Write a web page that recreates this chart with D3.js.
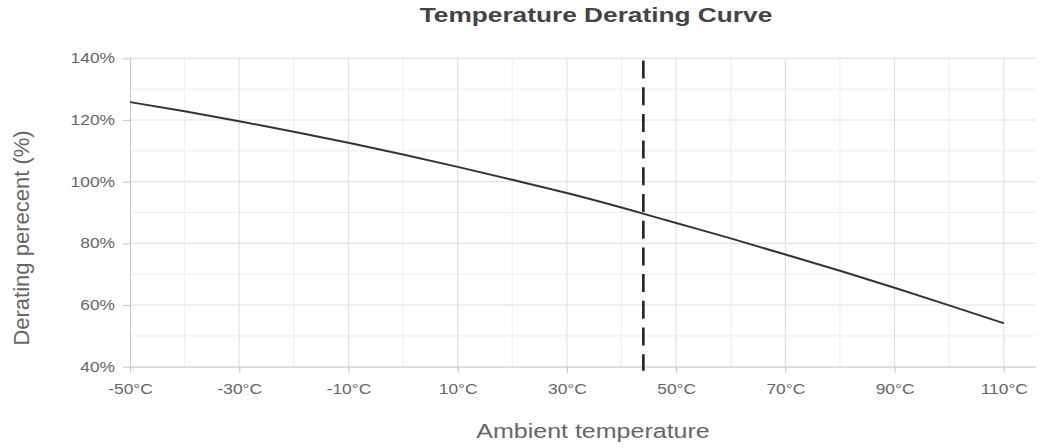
<!DOCTYPE html>
<html><head><meta charset="utf-8">
<script src="https://cdn.jsdelivr.net/npm/d3@7"></script>
<style>
body{margin:0;background:#fff;}
svg{display:block;font-family:"Liberation Sans",Arial,sans-serif;}
</style></head>
<body><svg id="c" width="1051" height="448"></svg>
<script>
const temps = [-50,-40,-30,-20,-10,0,10,20,30,40,50,60,70,80,90,100,110];
const derating = [125.8,122.8,119.6,116.2,112.6,108.8,104.8,100.6,96.3,91.6,86.6,81.6,76.4,71.1,65.6,59.9,54.1];
const xTicks = [-50,-30,-10,10,30,50,70,90,110];
const xMinor = [-40,-20,0,20,40,60,80,100];
const yTicks = [40,60,80,100,120,140];
const yMinor = [50,70,90,110,130];
const markerTemp = 44;
const title = "Temperature Derating Curve";
const xTitle = "Ambient temperature";
const yTitle = "Derating perecent (%)";

const svg = d3.select("#c");
const L = 130, R = 1036, T = 58.3, B = 366.7;
const x = d3.scaleLinear().domain([-50, 115.9]).range([L, R]);
const y = d3.scaleLinear().domain([40, 140]).range([B, T]);
const STRETCH = 1.24;
function stretch(sel, k) {
  sel.each(function() {
    const n = this.getComputedTextLength();
    d3.select(this).attr("textLength", n * k).attr("lengthAdjust", "spacingAndGlyphs");
  });
}

const g = svg.append("g");
g.selectAll(".vm").data(xMinor).join("line")
  .attr("x1", d=>x(d)).attr("x2", d=>x(d)).attr("y1", T).attr("y2", B)
  .attr("stroke", "#f0f0f0").attr("stroke-width", 1.2);
g.selectAll(".hm").data(yMinor).join("line")
  .attr("x1", L).attr("x2", R).attr("y1", d=>y(d)).attr("y2", d=>y(d))
  .attr("stroke", "#f0f0f0").attr("stroke-width", 1.2);
g.selectAll(".vM").data(xTicks.slice(1)).join("line")
  .attr("x1", d=>x(d)).attr("x2", d=>x(d)).attr("y1", T).attr("y2", B)
  .attr("stroke", "#e2e2e2").attr("stroke-width", 1.2);
g.selectAll(".hM").data(yTicks.slice(1)).join("line")
  .attr("x1", L).attr("x2", R).attr("y1", d=>y(d)).attr("y2", d=>y(d))
  .attr("stroke", "#e2e2e2").attr("stroke-width", 1.2);

const xAxis = d3.axisBottom(x).tickValues(xTicks).tickSize(6).tickPadding(11)
  .tickFormat(d => d + "°C");
const xa = svg.append("g").attr("transform", `translate(0,${B})`).call(xAxis);
const yAxis = d3.axisLeft(y).tickValues(yTicks).tickSize(7).tickPadding(8)
  .tickFormat(d => d + "%");
const ya = svg.append("g").attr("transform", `translate(${L},0)`).call(yAxis);
[xa, ya].forEach(a => {
  a.select(".domain").attr("stroke", "#cccccc").attr("stroke-width", 1.2);
  a.selectAll(".tick line").attr("stroke", "#cccccc").attr("stroke-width", 1.2);
  a.selectAll("text").attr("fill", "#666").attr("font-size", 14)
    .attr("font-family", "'Liberation Sans',Arial,sans-serif");
  stretch(a.selectAll("text"), STRETCH);
});
xa.select(".domain").attr("d", `M${L},0.5H${R}`);
ya.select(".domain").attr("d", `M0.5,${B}V${T}`);

const line = d3.line().x((d,i)=>x(temps[i])).y(d=>y(d)).curve(d3.curveMonotoneX);
svg.append("path").datum(derating).attr("d", line)
  .attr("fill", "none").attr("stroke", "#333").attr("stroke-width", 2);

svg.append("line").attr("x1", x(markerTemp)).attr("x2", x(markerTemp))
  .attr("y1", 60.5).attr("y2", B + 4)
  .attr("stroke", "#222").attr("stroke-width", 2.6).attr("stroke-dasharray", "18,8.7");

const tt = svg.append("text").attr("x", 596).attr("y", 22).attr("text-anchor", "middle")
  .attr("font-size", 21).attr("font-weight", "bold").attr("fill", "#444").text(title);
stretch(tt, 1.25);
const xt = svg.append("text").attr("x", 593).attr("y", 438).attr("text-anchor", "middle")
  .attr("font-size", 20).attr("fill", "#666").text(xTitle);
stretch(xt, 1.25);
svg.append("text").attr("transform", `translate(29,238) rotate(-90)`)
  .attr("text-anchor", "middle").attr("font-size", 22).attr("fill", "#666").text(yTitle);
</script></body></html>
